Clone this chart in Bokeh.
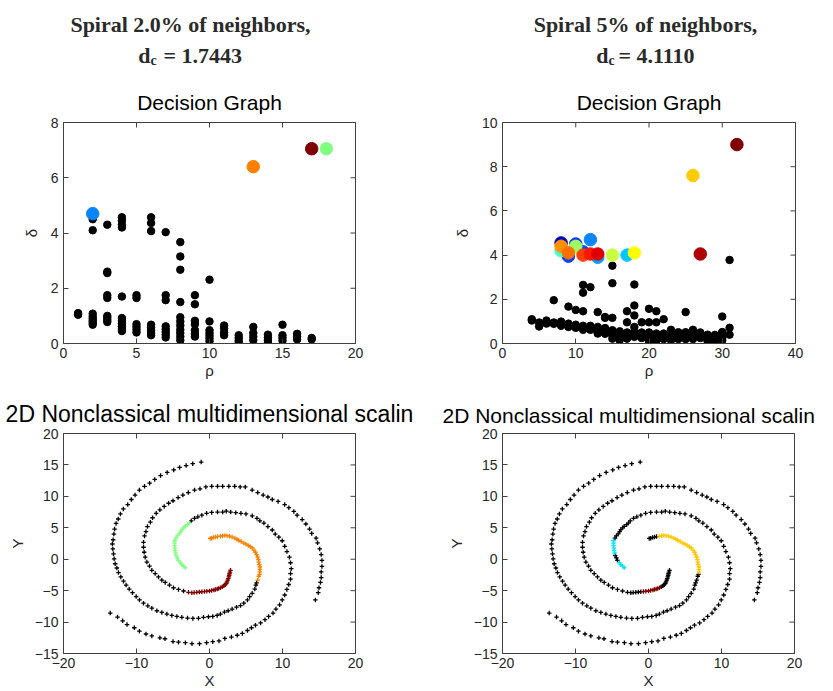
import math
from bokeh.plotting import figure
from bokeh.layouts import column, row
from bokeh.models import Range1d, FixedTicker
from bokeh.core.properties import value
from bokeh.embed import file_html
from bokeh.resources import INLINE

FONT = "Liberation Sans"
SERIF = "Liberation Serif"

# ---------------- header texts ----------------
left_head = "Spiral 2.0% of neighbors,"
left_dc = "= 1.7443"
right_head = "Spiral 5% of neighbors,"
right_dc = "= 4.1110"

# ---------------- decision graph (left, 2.0%) ----------------
dL_rho = [1, 1,
          2, 2, 2, 2, 2, 2, 2, 2,
          3, 3, 3, 3, 3, 3, 3, 3, 3,
          4, 4, 4, 4, 4, 4, 4, 4, 4, 4, 4,
          5, 5, 5, 5, 5, 5,
          6, 6, 6, 6, 6, 6, 6, 6,
          7, 7, 7, 7, 7, 7, 7, 7,
          8, 8, 8, 8, 8, 8, 8, 8, 8, 8, 8,
          9, 9, 9, 9, 9, 9, 9,
          10, 10, 10, 10, 10, 10, 10,
          11, 11, 11, 11,
          12, 12, 12, 12,
          13, 13, 13, 13,
          14, 14, 14, 14,
          15, 15, 15, 15,
          16, 16, 16,
          17, 17]
dL_delta = [1.1, 1.04,
            4.5, 4.1, 1.08, 0.98, 0.9, 0.82, 0.75, 0.68,
            4.3, 2.6, 2.55, 1.75, 1.65, 1.0, 0.93, 0.85, 0.78,
            4.57, 4.45, 4.3, 4.2, 1.7, 0.92, 0.82, 0.72, 0.62, 0.52, 0.45,
            1.75, 1.65, 0.7, 0.6, 0.5, 0.4,
            4.57, 4.36, 4.07, 0.68, 0.58, 0.48, 0.38, 0.3,
            4.03, 1.75, 1.57, 0.62, 0.52, 0.42, 0.32, 0.22,
            3.67, 3.15, 2.67, 1.5, 0.95, 0.8, 0.65, 0.5, 0.38, 0.25, 0.12,
            1.75, 1.42, 0.82, 0.7, 0.48, 0.35, 0.25,
            2.31, 0.8, 0.48, 0.38, 0.28, 0.18, 0.08,
            0.65, 0.55, 0.4, 0.3,
            0.3, 0.2, 0.1, 0.02,
            0.6, 0.38, 0.25, 0.12,
            0.32, 0.22, 0.12, 0.02,
            0.68, 0.3, 0.2, 0.1,
            0.35, 0.25, 0.15,
            0.2, 0.15]
cL_rho = [2, 13, 17, 18]
cL_delta = [4.7, 6.4, 7.05, 7.05]
cL_color = ["#0A84FF", "#FF8000", "#7F0000", "#80FF80"]

# ---------------- decision graph (right, 5%) ----------------
dR_rho = [31, 15, 15, 18, 11, 11, 12, 7, 9, 10, 11, 13, 14, 15, 17, 18, 18, 20, 21, 22, 25, 30,
          31, 31, 30, 17, 19, 20, 21, 14,
          4, 4, 5, 5, 6, 6, 7, 7, 8, 8, 8, 9, 9, 9, 10, 10, 10, 11, 11, 11, 12, 12, 12,
          13, 13, 13, 13, 14, 14, 14, 15, 15, 15, 15, 16, 16, 16, 16, 17, 17, 17,
          18, 18, 18, 18, 19, 19, 19, 20, 20, 20, 20, 21, 21, 21, 21, 22, 22, 22,
          23, 23, 23, 23, 24, 24, 24, 25, 25, 25, 26, 26, 26, 26, 27, 27, 27,
          28, 28, 28, 28, 29, 29, 29, 29, 30, 30, 30, 30]
dR_delta = [3.78, 3.52, 2.73, 2.67, 2.65, 2.3, 2.55, 1.96, 1.67, 1.52, 1.46, 1.42, 1.16, 1.16, 1.46, 1.72, 1.27,
            1.57, 1.46, 1.1, 1.42, 1.22,
            0.71, 0.4, 0.51, 0.96, 0.96, 0.96, 0.96, 1.2,
            1.1, 1.04, 0.95, 0.77, 1.04, 0.9, 0.95, 0.89, 0.99, 0.85, 0.8, 0.9, 0.81, 0.75, 0.85, 0.75, 0.71,
            0.8, 0.7, 0.62, 0.8, 0.7, 0.62,
            0.75, 0.6, 0.51, 0.45, 0.7, 0.55, 0.44, 0.6, 0.45, 0.36, 0.22, 0.55, 0.4, 0.29, 0.15, 0.5, 0.32, 0.22,
            0.75, 0.55, 0.47, 0.3, 0.5, 0.41, 0.25, 0.5, 0.36, 0.2, 0.1, 0.45, 0.29, 0.2, 0.1, 0.45, 0.36, 0.2,
            0.62, 0.4, 0.25, 0.15, 0.51, 0.35, 0.2, 0.51, 0.3, 0.2, 0.62, 0.45, 0.3, 0.2, 0.5, 0.39, 0.25,
            0.4, 0.29, 0.15, 0.1, 0.39, 0.3, 0.2, 0.1, 0.51, 0.35, 0.25, 0.15]
cR_rho = [8, 10, 11, 9, 13, 12, 8, 10, 8, 9, 11, 12, 13, 15, 17, 18, 26, 27, 32]
cR_delta = [4.55, 4.5, 4.15, 3.95, 3.9, 4.7, 4.2, 4.4, 4.4, 4.1, 4.0, 4.05, 4.05, 4.0, 4.0, 4.1, 7.6, 4.05, 9.0]
cR_color = ["#0000C0", "#0030FF", "#0050FF", "#0040FF", "#00A0FF", "#0A84FF", "#40FFC8", "#A0FF60",
            "#FF9000", "#FF7000", "#FF4000", "#FF1800", "#E00000", "#C8FF40", "#00C8FF", "#FFFF00",
            "#FFCC00", "#B00000", "#800000"]

# ---------------- 2D NMDS spiral embedding (three arms, inner -> outer) ----------------
armA_x = [0.1, 0.3, 0.55, 0.82, 1.1, 1.5, 1.8, 2.1, 2.4, 2.74, 3.1, 3.47, 3.75, 4.0, 4.35, 4.7, 5.0, 5.3, 5.6,
          5.85, 6.1, 6.3, 6.45, 6.6, 6.7, 6.75, 6.82, 6.9, 6.9, 6.9, 6.85, 6.75, 6.6,
          6.45, 6.35, 6.2, 5.85, 5.5, 5.2, 4.7, 4.25, 3.7, 3.1, 2.55, 2.05, 1.5, 1.05, 0.45, -0.14, -0.82,
          -1.51, -2.28, -3.01, -3.79, -4.47, -5.16, -5.84, -6.53, -7.21, -7.9, -8.45, -9.04, -9.59, -10.05,
          -10.55, -11.0, -11.42, -11.78, -12.15, -12.47, -12.69, -12.92, -13.06, -13.15, -13.24, -13.3, -13.2,
          -13.1, -13.0, -12.8, -12.5, -12.2, -11.8, -11.2, -10.7, -10.2, -9.6, -8.9, -8.2, -7.5, -6.7, -5.8,
          -4.9, -4.1, -3.2, -2.3, -1.14]
armA_y = [3.3, 3.35, 3.45, 3.52, 3.6, 3.67, 3.72, 3.78, 3.75, 3.67, 3.52, 3.36, 3.18, 3.0, 2.8, 2.57, 2.4, 2.2,
          1.98, 1.79, 1.45, 1.11, 0.72, 0.33, -0.05, -0.46, -0.85, -1.24, -1.63, -2.03, -2.4, -2.71, -3.34,
          -3.75, -4.12, -4.75, -5.43, -5.95, -6.48, -7.0, -7.37, -7.63, -7.94, -8.2, -8.41, -8.73, -8.94, -9.1,
          -9.15, -9.25, -9.4, -9.42, -9.36, -9.25, -9.1, -8.94, -8.73, -8.47, -8.2, -7.79, -7.42, -7.0, -6.48,
          -5.95, -5.33, -4.75, -4.12, -3.5, -2.81, -2.13, -1.4, -0.72, 0.06, 0.85, 1.63, 2.42, 3.1, 4.0, 4.8,
          5.7, 6.4, 7.2, 8.0, 8.7, 9.5, 10.2, 11.0, 11.6, 12.1, 12.7, 13.3, 13.8, 14.2, 14.6, 14.9, 15.2, 15.45]
armB_x = [2.88, 2.8, 2.74, 2.7, 2.65, 2.58, 2.5, 2.4, 2.3, 2.15, 1.96, 1.75, 1.5, 1.25, 1.05, 0.8, 0.6, 0.3,
          0.0, -0.37, -0.7, -1.05, -1.4, -1.74, -2.1, -2.42, -2.88,
          -3.56, -4.25, -4.93, -5.48, -6.07, -6.53, -6.99, -7.44, -7.9, -8.22, -8.58, -8.81, -8.95, -9.04,
          -9.04, -8.9, -8.7, -8.5, -8.1, -7.8, -7.3, -6.8, -6.2, -5.6, -5.0, -4.3, -3.65, -2.9, -2.05, -1.3,
          -0.5, 0.3, 1.1, 1.8, 2.65, 3.45, 4.2, 4.9, 5.85, 6.6, 7.35, 8.0, 8.6, 9.4, 10.3, 10.87, 11.55, 12.0,
          12.7, 13.2, 13.7, 14.0, 14.6, 14.8, 15.1, 15.3, 15.4, 15.4, 15.3, 15.3, 15.2, 15.0, 14.9, 14.5]
armB_y = [-1.77, -2.05, -2.29, -2.55, -2.81, -3.08, -3.34, -3.6, -3.86, -4.05, -4.23, -4.4, -4.54, -4.65,
          -4.75, -4.83, -4.9, -4.97, -5.06, -5.1, -5.15, -5.17, -5.22, -5.27, -5.3, -5.33, -5.27,
          -5.06, -4.8, -4.54, -4.12, -3.7, -3.34, -2.81, -2.29, -1.77, -1.09, -0.46, 0.33, 1.11, 1.9,
          2.68, 3.7, 4.4, 5.2, 5.9, 6.6, 7.3, 7.85, 8.4, 8.9, 9.3, 9.8, 10.2, 10.6, 11.0, 11.2,
          11.5, 11.6, 11.6, 11.6, 11.6, 11.6, 11.5, 11.5, 11.0, 10.6, 10.2, 9.9, 9.5, 9.2, 8.7, 8.2, 7.6, 7.0,
          6.3, 5.6, 4.8, 4.1, 3.35, 2.6, 1.63, 0.74, -0.2, -1.14, -2.03, -2.92, -3.7, -4.54, -5.33, -6.48]
armC_x = [-3.33, -3.55, -3.79, -4.0, -4.25, -4.4, -4.57, -4.65, -4.7, -4.75, -4.79, -4.79, -4.79, -4.6,
          -4.4, -4.15, -3.95, -3.79, -3.55, -3.33, -3.0, -2.75,
          -2.5, -2.05, -1.6, -1.05, -0.4, 0.3, 1.1, 1.8, 2.3, 2.9, 3.6, 4.3, 5.0, 5.85, 6.5, 6.9, 7.45, 8.0,
          8.6, 9.0, 9.5, 9.96, 10.3, 10.6, 10.95, 11.1, 11.2, 11.1, 11.1, 10.85, 10.6, 10.3, 9.96, 9.6, 9.1,
          8.7, 8.1, 7.6, 7.0, 6.3, 5.75, 5.2, 4.5, 3.8, 3.0, 2.1, 1.3, 0.45, -0.4, -1.37, -2.4, -3.3, -4.25,
          -5.0, -6.1, -6.8, -7.9, -8.7, -9.6, -10.3, -11.3, -11.9, -12.6, -13.6]
armC_y = [-1.35, -1.1, -0.88, -0.55, -0.2, 0.2, 0.59, 1.0, 1.37, 1.75, 2.16, 2.55, 2.94, 3.36,
          3.7, 4.04, 4.4, 4.72, 5.0, 5.24, 5.5, 5.75,
          6.1, 6.5, 6.75, 7.0, 7.3, 7.45, 7.5, 7.5, 7.65, 7.5, 7.4, 7.3, 7.2, 6.9, 6.5, 6.1, 5.75, 5.2,
          4.65, 4.0, 3.5, 2.94, 2.05, 1.21, 0.33, -0.56, -1.5, -2.29, -3.18, -4.02, -4.8, -5.69, -6.48, -7.26,
          -7.94, -8.57, -9.1, -9.62, -10.14, -10.5, -10.9, -11.34, -11.8, -12.1, -12.39, -12.6, -13.0, -13.12,
          -13.28, -13.44, -13.44, -13.28, -13.2, -13.1, -12.65, -12.5, -12.2, -11.9, -11.45, -10.9, -10.4,
          -9.8, -9.2, -8.57]

# cluster assignment along each arm (runs of labels, remainder unassigned = black)
left_runs = {"A": [("orange", 33)], "B": [("darkred", 27)], "C": [("green", 22)]}
right_runs = {"A": [("black", 5), ("gold", 25)],
              "B": [("black", 12), ("darkred", 9)],
              "C": [("cyan", 4), ("black", 3), ("cyan", 6)]}
PALETTE = {"black": "#000000", "orange": "#FF8000", "darkred": "#800000", "green": "#80FF80",
           "gold": "#FFC800", "cyan": "#00E5F5"}

ticks_dL = ([0, 5, 10, 15, 20], [0, 2, 4, 6, 8])
ticks_dR = ([0, 10, 20, 30, 40], [0, 2, 4, 6, 8, 10])
ticks_s = ([-20, -10, 0, 10, 20], [-15, -10, -5, 0, 5, 10, 15, 20])

AXC = "#404040"
TXC = "#262626"


def expand(runs, n):
    out = []
    for c, k in runs:
        out += [c] * k
    out += ["black"] * (n - len(out))
    return out


def panel(title, xr, yr, ticks, xlabel, ylabel, w, h, bl, br, bt, bb, tsize="21px", tstand=17):
    p = figure(width=w, height=h, x_range=Range1d(*xr), y_range=Range1d(*yr),
               min_border_left=bl, min_border_right=br, min_border_top=bt, min_border_bottom=bb,
               toolbar_location=None, output_backend="svg", title=title)
    p.title.text_font = FONT
    p.title.text_font_size = tsize
    p.title.text_font_style = "normal"
    p.title.text_color = "#000000"
    p.title.align = "center"
    p.title.standoff = tstand
    p.xgrid.visible = False
    p.ygrid.visible = False
    p.outline_line_color = AXC
    p.outline_line_width = 1
    p.background_fill_color = "white"
    p.border_fill_color = "white"
    p.xaxis.ticker = FixedTicker(ticks=ticks[0])
    p.yaxis.ticker = FixedTicker(ticks=ticks[1])
    p.xaxis.axis_label = xlabel
    p.yaxis.axis_label = ylabel
    for ax in (p.xaxis[0], p.yaxis[0]):
        ax.major_label_text_font = FONT
        ax.major_label_text_font_size = "14px"
        ax.major_label_text_color = TXC
        ax.axis_label_text_font = FONT
        ax.axis_label_text_font_size = "15px"
        ax.axis_label_text_font_style = "normal"
        ax.axis_label_text_color = TXC
        ax.major_tick_in = 5
        ax.major_tick_out = 0
        ax.minor_tick_line_color = None
        ax.axis_line_color = AXC
        ax.major_tick_line_color = AXC
    p.xaxis.major_label_standoff = 4
    p.yaxis.major_label_standoff = 5
    p.xaxis.axis_label_standoff = 1
    p.yaxis.axis_label_standoff = 8
    # inward ticks on the top and right edges of the box (half of each dash is clipped by the frame)
    p.scatter(ticks[0], [yr[1]] * len(ticks[0]), marker="dash", angle=math.pi / 2, size=10,
              line_color=AXC, line_width=1)
    p.scatter([xr[1]] * len(ticks[1]), ticks[1], marker="dash", size=10, line_color=AXC, line_width=1)
    return p


# header
head = figure(width=833, height=70, x_range=Range1d(0, 833), y_range=Range1d(70, 0),
              toolbar_location=None, output_backend="svg", x_axis_type=None, y_axis_type=None,
              min_border=0)
head.outline_line_color = None
head.xgrid.visible = False
head.ygrid.visible = False
HC = "#2a2a2a"
common = dict(text_font=value(SERIF), text_font_style="bold", text_color=HC, text_baseline="alphabetic")
head.text(x=[190, 645], y=[24, 24], text=[left_head, right_head], text_font_size="22px",
          text_align="center", **common)
head.text(x=[150, 608], y=[55, 55], text=["d", "d"], text_font_size="22px", text_align="right", **common)
head.text(x=[150, 608], y=[60, 60], text=["c", "c"], text_font_size="14px", text_align="left", **common)
head.text(x=[163, 618], y=[55, 55], text=[left_dc, right_dc], text_font_size="22px",
          text_align="left", **common)

# decision graphs
d1 = panel("Decision Graph", (0, 20), (0, 8), ticks_dL, "ρ", "δ", 440, 315, 63, 85, 52, 42)
d1.scatter(dL_rho, dL_delta, size=7.5, color="#000000")
d1.scatter(cL_rho, cL_delta, size=12.5, color=cL_color)

d2 = panel("Decision Graph", (0, 40), (0, 10), ticks_dR, "ρ", "δ", 393, 315, 62, 38, 52, 42)
d2.scatter(dR_rho, dR_delta, size=7.5, color="#000000")
d2.scatter(cR_rho, cR_delta, size=12.5, color=cR_color)

# spirals
arms = {"A": (armA_x, armA_y), "B": (armB_x, armB_y), "C": (armC_x, armC_y)}
stitle = "2D Nonclassical multidimensional scalin"


def spiral_panel(runs, w, bl, br, tsize):
    p = panel(stitle, (-20, 20), (-15, 20), ticks_s, "X", "Y", w, 306, bl, br, 48, 35,
              tsize=tsize, tstand=13)
    p.yaxis.axis_label_standoff = 6
    xs_b, ys_b, xs_c, ys_c, cs = [], [], [], [], []
    for k, (ax, ay) in arms.items():
        labs = expand(runs[k], len(ax))
        for x, y, l in zip(ax, ay, labs):
            if l == "black":
                xs_b.append(x); ys_b.append(y)
            else:
                xs_c.append(x); ys_c.append(y); cs.append(PALETTE[l])
    p.scatter(xs_b, ys_b, marker="cross", size=4.5, line_width=1.3, color="#000000")
    p.scatter(xs_c, ys_c, marker="cross", size=4.5, line_width=1.3, color=cs)
    return p


s1 = spiral_panel(left_runs, 440, 63, 85, "23px")
s2 = spiral_panel(right_runs, 393, 62, 39, "21px")
# the right-hand title runs up to the window edge: start it just right of the left panel
s2.title.align = "left"
s2.title.offset = -60

layout = column(head, row(d1, d2), row(s1, s2))
open("out.html", "w").write(file_html(layout, INLINE))
